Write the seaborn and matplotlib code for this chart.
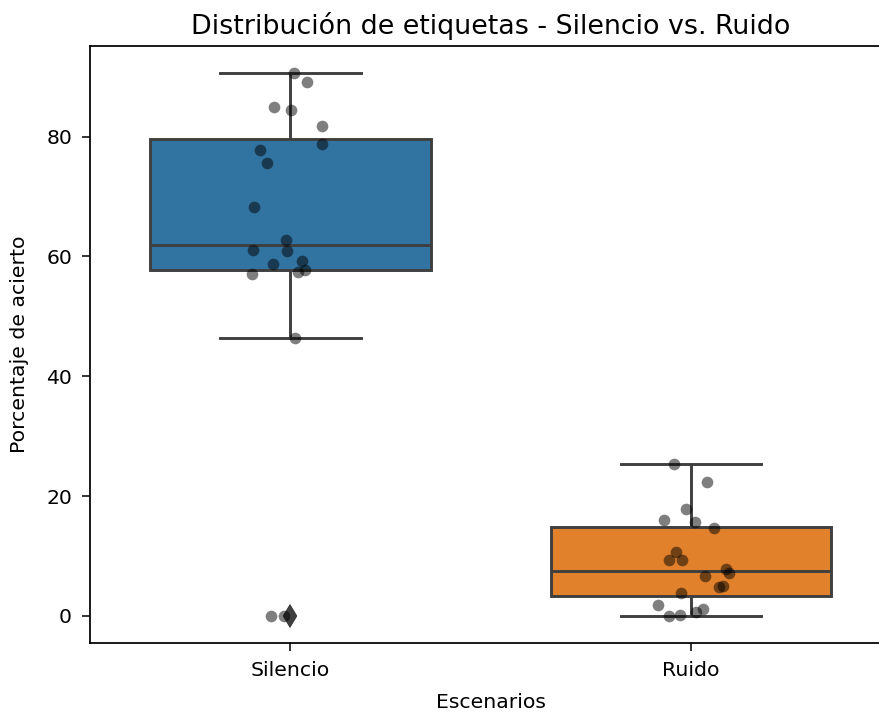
import numpy as np
import pandas as pd
import matplotlib
matplotlib.use("Agg")
import matplotlib.pyplot as plt
import seaborn as sns

# Porcentaje de acierto por participante
silencio = [90.6, 89.1, 85.0, 84.4, 81.7, 78.8, 77.7, 75.6, 68.2, 62.8,
            61.1, 60.9, 59.2, 58.8, 57.8, 57.4, 57.1, 46.4, 0.0, 0.0]
ruido = [25.4, 22.3, 17.8, 16.0, 15.6, 14.6, 10.7, 9.4, 9.3, 7.9,
         7.2, 6.6, 5.0, 4.8, 3.8, 1.8, 1.1, 0.7, 0.2, 0.05]
escenarios = ["Silencio", "Ruido"]

df = pd.DataFrame({
    "Escenario": ["Silencio"] * len(silencio) + ["Ruido"] * len(ruido),
    "Porcentaje": silencio + ruido,
})

plt.rcParams['font.family'] = ['DejaVu Sans']
plt.rcParams['font.size'] = 10.5
plt.rcParams['xtick.major.size'] = 4.2
plt.rcParams['ytick.major.size'] = 4.2
plt.rcParams['xtick.major.pad'] = 5
plt.rcParams['ytick.major.pad'] = 5
plt.rcParams['axes.linewidth'] = 0.9

fig = plt.figure(figsize=(879 / 140, 713 / 140), dpi=140)
ax = fig.add_axes([90 / 879, 1 - 643 / 713, 801.5 / 879, 597 / 713])

sns.boxplot(data=df, x="Escenario", y="Porcentaje", hue="Escenario", order=escenarios,
            hue_order=escenarios, palette=sns.color_palette("tab10")[:2], legend=False,
            width=0.7, linecolor="#3f3f3f", linewidth=1.5, fliersize=7,
            flierprops=dict(marker="d", markerfacecolor="#3f3f3f", markeredgecolor="#3f3f3f"),
            ax=ax)

np.random.seed(3)
sns.stripplot(data=df, x="Escenario", y="Porcentaje", order=escenarios, color="black",
              alpha=0.5, jitter=0.1, size=6, ax=ax)

ax.set_xlim(-0.5, 1.5)
ax.set_title("Distribución de etiquetas - Silencio vs. Ruido", fontsize=13.8)
ax.set_xlabel("Escenarios", labelpad=7)
ax.set_ylabel("Porcentaje de acierto", labelpad=9)

fig.savefig("out.png", dpi=140)
